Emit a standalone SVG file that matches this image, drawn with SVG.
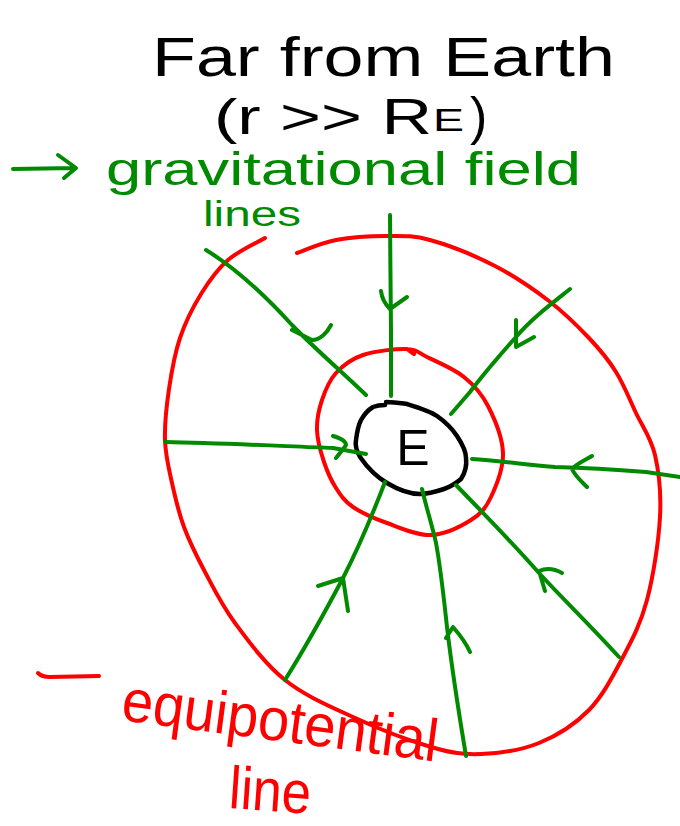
<svg xmlns="http://www.w3.org/2000/svg" width="680" height="826" viewBox="0 0 680 826">
<style>
.r{fill:none;stroke:#ff0000;stroke-width:4;stroke-linecap:round;stroke-linejoin:round}
.g{fill:none;stroke:#008a00;stroke-width:4;stroke-linecap:round;stroke-linejoin:round}
.k{fill:none;stroke:#000;stroke-width:4.5;stroke-linecap:round;stroke-linejoin:round}
.t{font-family:"Liberation Sans","DejaVu Sans",sans-serif}
.tk{fill:#000}
.tg{fill:#008a00}
.tr{fill:#ff0000}
</style>
<rect width="680" height="826" fill="#fff"/>
<g id="title">
<text class="t tk" x="152" y="76" font-size="56" textLength="463" lengthAdjust="spacingAndGlyphs">Far from Earth</text>
<text class="t tk" x="214" y="134" font-size="50" textLength="218" lengthAdjust="spacingAndGlyphs">(r &gt;&gt; R</text>
<text class="t tk" x="433" y="131" font-size="32" textLength="31" lengthAdjust="spacingAndGlyphs">E</text>
<text class="t tk" x="470" y="134" font-size="52">)</text>
</g>
<g id="legend-field">
<path class="g" d="M13,169 L75,168 M58,155 L76,168 L64,178"/>
<text class="t tg" x="106" y="185" font-size="47" textLength="475" lengthAdjust="spacingAndGlyphs">gravitational field</text>
<text class="t tg" x="203" y="226" font-size="35" textLength="98" lengthAdjust="spacingAndGlyphs">lines</text>
</g>
<g id="legend-equipotential">
<path class="r" d="M38,673 Q42,677 50,677 L99,676"/>
<text class="t tr" x="120" y="720" font-size="60" textLength="318" lengthAdjust="spacingAndGlyphs" transform="rotate(7.5 120 720)">equipotential</text>
<text class="t tr" x="228" y="808" font-size="60" textLength="82" lengthAdjust="spacingAndGlyphs" transform="rotate(4 228 808)">line</text>
</g>
<g id="outer-equipotential">
<path class="r" d="M265,238 C258.8,241.7 238.7,250.7 228,260 C217.3,269.3 209,281 201,294 C193,307 185.3,322.2 180,338 C174.7,353.8 171.5,372 169,389 C166.5,406 164.5,424.3 165,440 C165.5,455.7 168.8,468.5 172,483 C175.2,497.5 178.5,512.2 184,527 C189.5,541.8 196.5,556 205,572 C213.5,588 221.7,605 235,623 C248.3,641 265.3,664.3 285,680 C304.7,695.7 328.7,705.8 353,717 C377.3,728.2 409.7,740.8 431,747 C452.3,753.2 463,754.7 481,754 C499,753.3 521,750.3 539,743 C557,735.7 575,724.3 589,710 C603,695.7 613.3,675.3 623,657 C632.7,638.7 640.8,623.3 647,600 C653.2,576.7 658.7,541.2 660,517 C661.3,492.8 659,472.3 655,455 C651,437.7 642.5,426.8 636,413 C629.5,399.2 623.8,384.5 616,372 C608.2,359.5 600.2,349.8 589,338 C577.8,326.2 564.7,313 549,301 C533.3,289 514.8,276.2 495,266 C475.2,255.8 448.2,245 430,240 C411.8,235 401.7,236 386,236 C370.3,236 350.8,237.2 336,240 C321.2,242.8 303.5,250.8 297,253"/>
</g>
<g id="inner-equipotential">
<path class="r" d="M414,354 L407,349 C396.3,348.7 374.8,351 363,355 C351.2,359 342.8,365.5 336,373 C329.2,380.5 325.2,390.5 322,400 C318.8,409.5 316.7,419.7 317,430 C317.3,440.3 320.8,452.3 324,462 C327.2,471.7 331.2,480.5 336,488 C340.8,495.5 344.5,501.2 353,507 C361.5,512.8 374,518.3 387,523 C400,527.7 417,535.5 431,535 C445,534.5 461,526.3 471,520 C481,513.7 485.7,508.2 491,497 C496.3,485.8 503.5,468.2 503,453 C502.5,437.8 494.5,418.7 488,406 C481.5,393.3 474.2,385.2 464,377 C453.8,368.8 436.5,361.7 427,357 C417.5,352.3 417.7,349.3 405,349"/>
</g>
<g id="earth">
<path class="k" d="M386,402 C395,402 400,403 407,404 C420,408 430,411 437,416 C447,423 453,430 457,436 C463,445 466,452 466,458 C467,466 465,473 461,479 C455,484 450,487 444,489 C435,492 428,494 420,494 C408,494 397,489 387,483 C375,476 367,467 360,457 C356,450 355,445 356,440 C357,432 358,426 361,420 C365,413 368,410 373,407 C378,405 382,405 385,405"/>
<text class="t tk" x="413" y="465" font-size="50" text-anchor="middle">E</text>
</g>
<g id="field-lines">
<path class="g" d="M390,215 C390,250 391,300 391,330 L391,396 M381,291 C382,300 386,305 390,309 L407,297"/>
<path class="g" d="M206,250 C232,266 262,292 292,325 C312,346 342,372 366,395 M292,330 L312,340 C320,340 327,333 331,325"/>
<path class="g" d="M570,289 C550,305 530,320 516,337 C500,355 485,372 470,392 L451,414 M516,320 L516,347 L534,337"/>
<path class="g" d="M165,442 C220,443 280,446 333,448 L366,454 M333,436 C340,438 346,441 346,445 C343,450 338,455 336,458"/>
<path class="g" d="M472,459 C500,461 530,465 555,467 C590,468 620,470 646,472 L680,477 M592,456 C585,460 576,464 572,469 C575,476 582,482 587,487"/>
<path class="g" d="M385,482 C375,508 360,545 343,578 C325,612 305,648 285,680 M318,586 L343,578 L348,611"/>
<path class="g" d="M422,489 C427,510 432,525 436,543 C441,570 444,600 447,627 C452,670 460,720 466,756 M446,638 L453,627 C460,635 466,643 470,652"/>
<path class="g" d="M456,485 C480,510 510,540 539,573 C560,596 590,625 619,657 M545,591 L539,571 C548,567 555,569 562,573"/>
</g>
</svg>
